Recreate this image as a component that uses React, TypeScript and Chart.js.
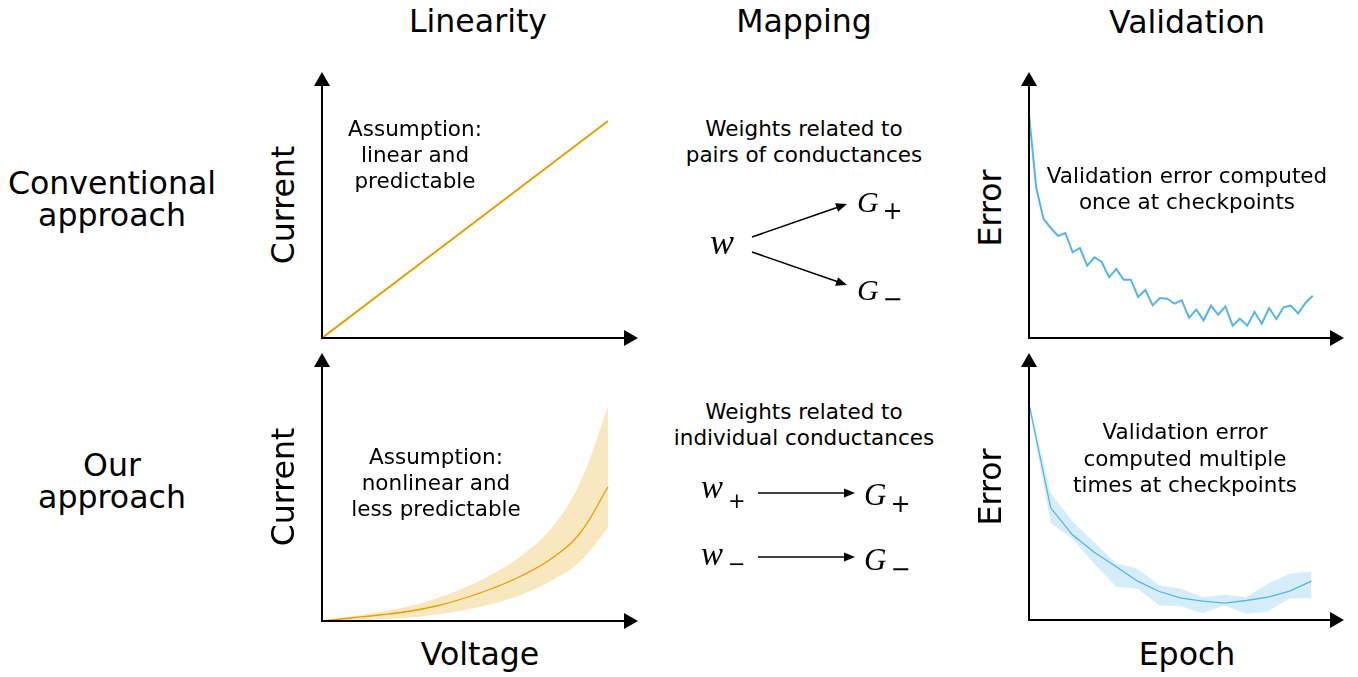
import React, { useEffect, useRef } from "react";
import { Chart, registerables } from "chart.js";

Chart.register(...registerables);

const ORANGE = "#E69F00";
const ORANGE_BAND = "rgba(230,159,0,0.25)";
const BLUE = "#56B4E9";
const BLUE_BAND = "rgba(86,180,233,0.25)";

// ---- Linearity: conventional (straight line) ----
const linVoltage = [0, 10];
const linCurrent = [0, 217];

// ---- Linearity: our approach (nonlinear with spread) ----
const nlVoltage = [0, 1, 2, 3, 4, 5, 6, 7, 8, 9, 10];
const nlMean = [0, 3, 6, 9.5, 15, 23, 33, 45.5, 62, 87, 134];
const nlUpper = [0, 4.5, 9, 14.5, 22.5, 33.5, 47.5, 66, 92, 137, 214];
const nlLower = [0, 0.8, 1.8, 3.3, 6.5, 11, 17.5, 26.5, 40, 59, 93];

// ---- Validation: conventional (single error per checkpoint) ----
const convError = [
  223.3, 150, 119, 110, 102, 105, 85.7, 90, 72.3, 80.7, 76, 60.7, 69, 58.3,
  58.3, 41, 48, 32.6, 40, 39.3, 34.3, 37.6, 20, 28.3, 17.6, 32.3, 23.3, 31.6,
  12.3, 19.3, 12.3, 26, 14.3, 30, 19, 30.6, 32.3, 24.6, 35, 42.3,
];

// ---- Validation: our approach (mean and spread) ----
const ourMean = [216.2, 112.2, 85.2, 67.8, 53.5, 38.8, 28.5, 21.8, 18.8, 16.8, 19.5, 22.8, 28.8, 38.8];
const ourUpper = [219.5, 126.8, 98.8, 77.8, 56.8, 51.2, 34.5, 31.2, 22.8, 25.2, 22.8, 36.2, 46.2, 48.5];
const ourLower = [212.8, 96.8, 81.2, 56.2, 33.5, 31.2, 14.5, 13.8, 6.8, 14.5, 6.2, 8.5, 21.8, 21.8];

const PAD = { left: 20, right: 12, top: 12, bottom: 12 };
const HEAD = 14;
const HW = 8;

const arrowAxes = {
  id: "arrowAxes",
  afterDatasetsDraw(chart: any) {
    const { ctx, chartArea } = chart;
    const { left, right, top, bottom } = chartArea;
    ctx.save();
    ctx.strokeStyle = "#000";
    ctx.fillStyle = "#000";
    ctx.lineWidth = 2;
    ctx.beginPath();
    ctx.moveTo(left, top + HEAD);
    ctx.lineTo(left, bottom);
    ctx.lineTo(right - HEAD, bottom);
    ctx.stroke();
    ctx.beginPath();
    ctx.moveTo(left, top);
    ctx.lineTo(left - HW, top + HEAD);
    ctx.lineTo(left + HW, top + HEAD);
    ctx.closePath();
    ctx.fill();
    ctx.beginPath();
    ctx.moveTo(right, bottom);
    ctx.lineTo(right - HEAD, bottom - HW);
    ctx.lineTo(right - HEAD, bottom + HW);
    ctx.closePath();
    ctx.fill();
    ctx.restore();
  },
};

const pts = (xs: number[], ys: number[]) => ys.map((y, i) => ({ x: xs[i], y }));
const idx = (n: number) => Array.from({ length: n }, (_, i) => i);

type Panel = {
  axisX: number;
  originY: number;
  tipX: number;
  tipY: number;
  xMax: number;
  yMax: number;
  datasets: any[];
};

const SMOOTH = 0.4;

const panels: Panel[] = [
  {
    axisX: 322, originY: 338, tipX: 638, tipY: 72, xMax: 11.05, yMax: 266,
    datasets: [
      { data: pts(linVoltage, linCurrent), borderColor: ORANGE, borderWidth: 2, pointRadius: 0, fill: false },
    ],
  },
  {
    axisX: 322, originY: 621, tipX: 638, tipY: 353, xMax: 11.05, yMax: 268,
    datasets: [
      { data: pts(nlVoltage, nlUpper), borderWidth: 0, borderColor: "transparent", backgroundColor: ORANGE_BAND, pointRadius: 0, fill: "+1", tension: SMOOTH },
      { data: pts(nlVoltage, nlLower), borderWidth: 0, borderColor: "transparent", pointRadius: 0, fill: false, tension: SMOOTH },
      { data: pts(nlVoltage, nlMean), borderColor: ORANGE, borderWidth: 1.3, pointRadius: 0, fill: false, tension: SMOOTH },
    ],
  },
  {
    axisX: 1029, originY: 338, tipX: 1344, tipY: 72, xMax: 43.3, yMax: 266,
    datasets: [
      { data: pts(idx(convError.length), convError), borderColor: BLUE, borderWidth: 2, pointRadius: 0, fill: false },
    ],
  },
  {
    axisX: 1029, originY: 620, tipX: 1344, tipY: 353, xMax: 14.5, yMax: 267,
    datasets: [
      { data: pts(idx(ourUpper.length), ourUpper), borderWidth: 0, borderColor: "transparent", backgroundColor: BLUE_BAND, pointRadius: 0, fill: "+1" },
      { data: pts(idx(ourLower.length), ourLower), borderWidth: 0, borderColor: "transparent", pointRadius: 0, fill: false },
      { data: pts(idx(ourMean.length), ourMean), borderColor: BLUE, borderWidth: 1.3, pointRadius: 0, fill: false },
    ],
  },
];

function PanelChart({ p }: { p: Panel }) {
  const ref = useRef<HTMLCanvasElement | null>(null);
  const w = p.tipX - p.axisX + PAD.left + PAD.right;
  const h = p.originY - p.tipY + PAD.top + PAD.bottom;
  useEffect(() => {
    if (!ref.current) return;
    const chart = new Chart(ref.current, {
      type: "line",
      data: { datasets: p.datasets },
      options: {
        animation: false,
        responsive: false,
        maintainAspectRatio: false,
        devicePixelRatio: 1,
        layout: { padding: PAD },
        plugins: { legend: { display: false }, tooltip: { enabled: false } },
        scales: {
          x: { type: "linear", min: 0, max: p.xMax, display: false },
          y: { type: "linear", min: 0, max: p.yMax, display: false },
        },
        elements: { point: { radius: 0 }, line: { tension: 0 } },
      },
      plugins: [arrowAxes],
    } as any);
    return () => chart.destroy();
  }, []);
  return (
    <canvas
      ref={ref}
      width={w}
      height={h}
      style={{ position: "absolute", left: p.axisX - PAD.left, top: p.tipY - PAD.top, width: w, height: h }}
    />
  );
}

const FONT = '"DejaVu Sans", sans-serif';
const BIG = 31.6;
const SMALL = 21.5;

function Label({ x, y, size, lh, lines, rotate }: { x: number; y: number; size: number; lh: number; lines: string[]; rotate?: boolean }) {
  return (
    <div
      style={{
        position: "absolute",
        left: x,
        top: y,
        transform: `translate(-50%,-50%)${rotate ? " rotate(-90deg)" : ""}`,
        fontFamily: FONT,
        fontSize: size,
        lineHeight: `${lh}px`,
        textAlign: "center",
        whiteSpace: "nowrap",
        color: "#000",
      }}
    >
      {lines.map((l, i) => (
        <div key={i}>{l}</div>
      ))}
    </div>
  );
}

function Arrow({ x1, y1, x2, y2 }: { x1: number; y1: number; x2: number; y2: number }) {
  const dx = x2 - x1;
  const dy = y2 - y1;
  const len = Math.hypot(dx, dy);
  const ux = dx / len;
  const uy = dy / len;
  const hl = 11;
  const hw = 4.5;
  const bx = x2 - ux * hl;
  const by = y2 - uy * hl;
  const p1 = `${x2},${y2}`;
  const p2 = `${bx - uy * hw},${by + ux * hw}`;
  const p3 = `${bx + uy * hw},${by - ux * hw}`;
  return (
    <g>
      <line x1={x1} y1={y1} x2={bx + ux * 2} y2={by + uy * 2} stroke="#000" strokeWidth={1.6} />
      <polygon points={`${p1} ${p2} ${p3}`} fill="#000" />
    </g>
  );
}

const MATH = '"Liberation Serif", "DejaVu Serif", serif';

function Sym({ x, y, main, size, sub, sx, sy, subSize }: { x: number; y: number; main: string; size: number; sub?: string; sx?: number; sy?: number; subSize?: number }) {
  return (
    <g>
      <text x={x} y={y} fontFamily={MATH} fontStyle="italic" fontSize={size} fill="#000">{main}</text>
      {sub ? (
        <text x={sx} y={sy} fontFamily={FONT} fontSize={subSize} fill="#000">{sub}</text>
      ) : null}
    </g>
  );
}

export default function App() {
  return (
    <div style={{ position: "absolute", left: 0, top: 0, width: 1358, height: 677, background: "#fff", overflow: "hidden" }}>
      {panels.map((p, i) => (
        <PanelChart key={i} p={p} />
      ))}

      {/* column headers */}
      <Label x={478} y={21} size={BIG} lh={36} lines={["Linearity"]} />
      <Label x={804} y={21} size={BIG} lh={36} lines={["Mapping"]} />
      <Label x={1187} y={22} size={BIG} lh={36} lines={["Validation"]} />

      {/* row labels */}
      <Label x={112} y={199} size={BIG} lh={31.5} lines={["Conventional", "approach"]} />
      <Label x={112} y={481} size={BIG} lh={31.5} lines={["Our", "approach"]} />

      {/* axis titles */}
      <Label x={283} y={205} size={BIG} lh={36} lines={["Current"]} rotate />
      <Label x={283} y={487} size={BIG} lh={36} lines={["Current"]} rotate />
      <Label x={990} y={208} size={BIG} lh={36} lines={["Error"]} rotate />
      <Label x={990} y={487} size={BIG} lh={36} lines={["Error"]} rotate />
      <Label x={480} y={654} size={BIG} lh={36} lines={["Voltage"]} />
      <Label x={1187} y={654} size={BIG} lh={36} lines={["Epoch"]} />

      {/* annotations */}
      <Label x={415} y={155} size={SMALL} lh={26} lines={["Assumption:", "linear and", "predictable"]} />
      <Label x={436} y={483} size={SMALL} lh={26} lines={["Assumption:", "nonlinear and", "less predictable"]} />
      <Label x={1187} y={189} size={SMALL} lh={26} lines={["Validation error computed", "once at checkpoints"]} />
      <Label x={1185} y={459} size={SMALL} lh={26.5} lines={["Validation error", "computed multiple", "times at checkpoints"]} />
      <Label x={804} y={142} size={SMALL} lh={26} lines={["Weights related to", "pairs of conductances"]} />
      <Label x={804} y={425} size={SMALL} lh={26} lines={["Weights related to", "individual conductances"]} />

      {/* mapping diagram */}
      <svg width={1358} height={677} style={{ position: "absolute", left: 0, top: 0, pointerEvents: "none" }}>
        <Sym x={710} y={254} main="w" size={36} />
        <Arrow x1={752} y1={237} x2={847} y2={204} />
        <Arrow x1={752} y1={252} x2={847} y2={285} />
        <Sym x={857} y={212} main="G" size={30} sub="+" sx={882.5} sy={218.5} subSize={24} />
        <Sym x={857} y={300} main="G" size={30} sub="−" sx={882.5} sy={307} subSize={24} />

        <Sym x={701} y={498} main="w" size={33} sub="+" sx={728} sy={507.5} subSize={21} />
        <Arrow x1={758} y1={493} x2={855} y2={493} />
        <Sym x={864} y={505} main="G" size={31} sub="+" sx={890.5} sy={512} subSize={24} />

        <Sym x={701} y={565} main="w" size={33} sub="−" sx={728} sy={570.5} subSize={21} />
        <Arrow x1={758} y1={557} x2={855} y2={557} />
        <Sym x={864} y={570} main="G" size={31} sub="−" sx={890.5} sy={577} subSize={24} />
      </svg>
    </div>
  );
}
